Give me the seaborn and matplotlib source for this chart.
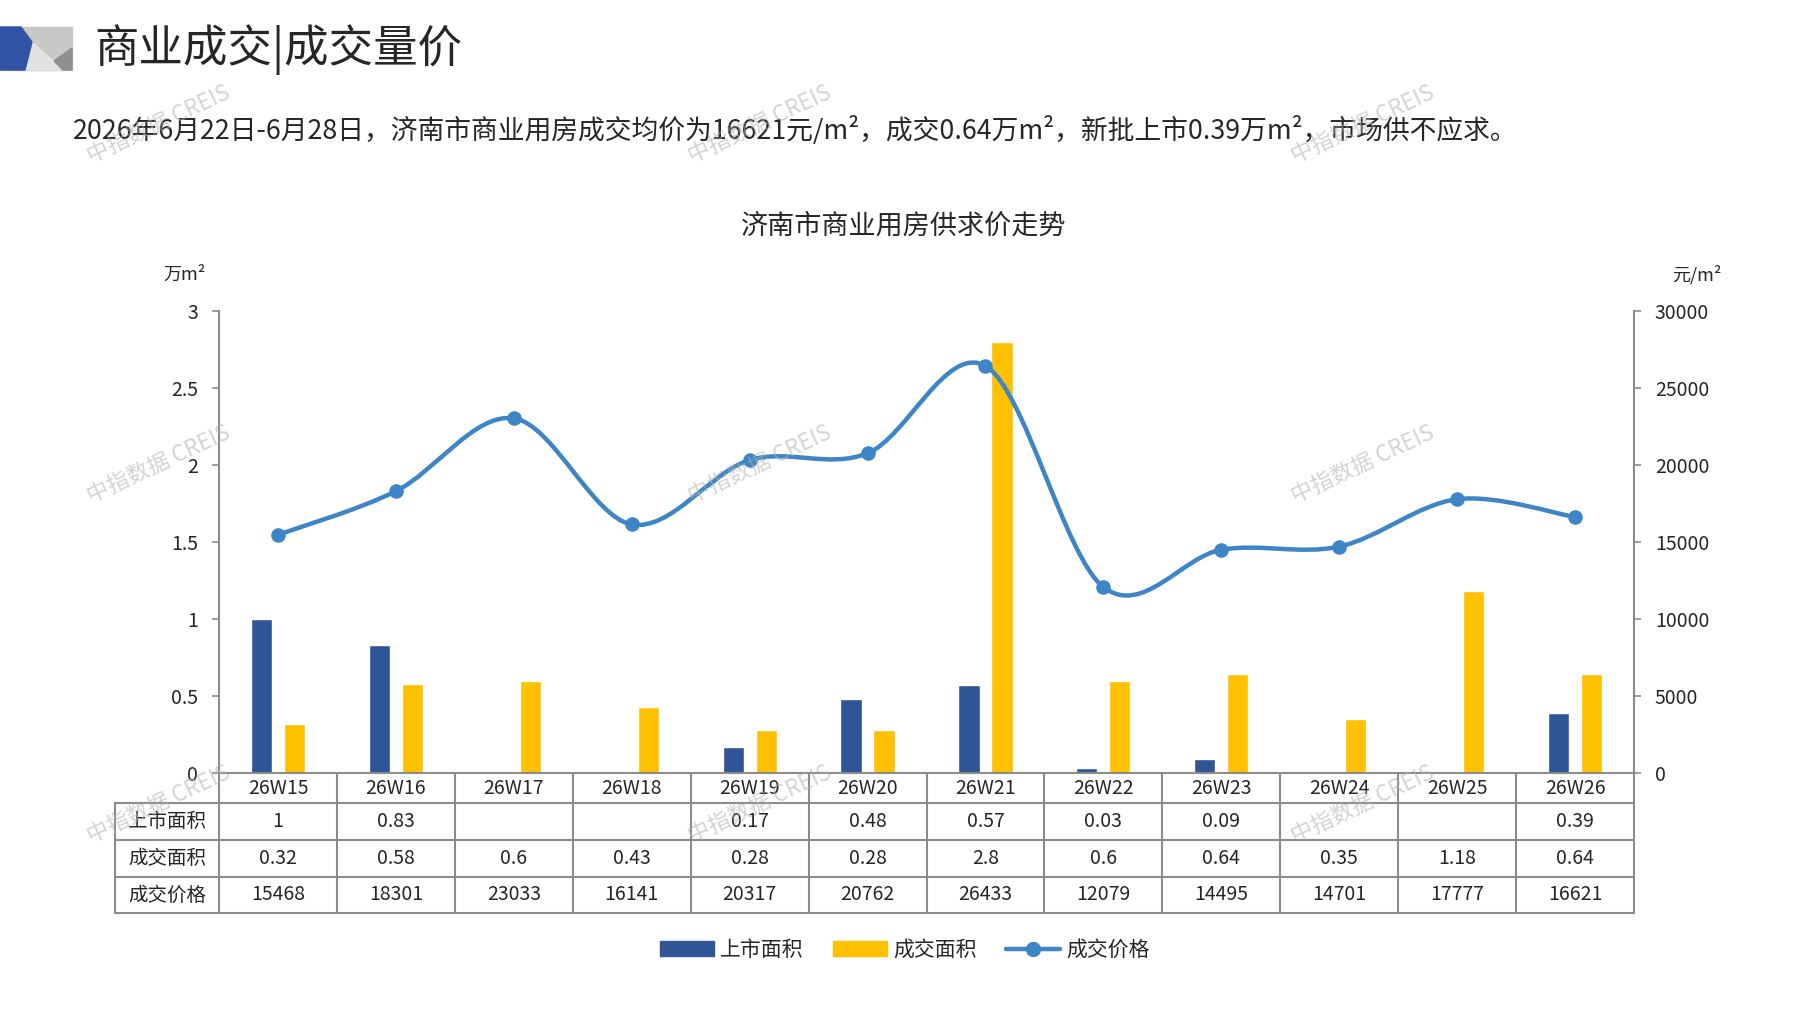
import numpy as np
import pandas as pd
import matplotlib
matplotlib.use("Agg")
import matplotlib.pyplot as plt
from matplotlib.path import Path
from matplotlib.patches import PathPatch, Patch, Polygon
from matplotlib.lines import Line2D
import seaborn as sns

# data
weeks = ["26W15", "26W16", "26W17", "26W18", "26W19", "26W20",
         "26W21", "26W22", "26W23", "26W24", "26W25", "26W26"]
supply_area = [1, 0.83, None, None, 0.17, 0.48, 0.57, 0.03, 0.09, None, None, 0.39]
deal_area = [0.32, 0.58, 0.6, 0.43, 0.28, 0.28, 2.8, 0.6, 0.64, 0.35, 1.18, 0.64]
deal_price = [15468, 18301, 23033, 16141, 20317, 20762, 26433, 12079, 14495, 14701, 17777, 16621]
row_names = ["上市面积", "成交面积", "成交价格"]

BLUE = "#2F5597"
YELLOW = "#FFC000"
LINE = "#3D85C6"
GRID = "#8C8C8C"

sns.set_style("white")
plt.rcParams["font.family"] = ["Noto Sans CJK SC", "DejaVu Sans"]
plt.rcParams["axes.unicode_minus"] = False

fig = plt.figure(figsize=(17.97, 10.10), dpi=100)
W, H = 1797, 1010
AX_L, AX_R = 219, 1634
AX_T, AX_B = 311, 773
ax = fig.add_axes([AX_L / W, 1 - AX_B / H, (AX_R - AX_L) / W, (AX_B - AX_T) / H])

#bars
df = pd.DataFrame({
    "周": weeks * 2,
    "类型": [row_names[0]] * len(weeks) + [row_names[1]] * len(weeks),
    "面积": [np.nan if v is None else v for v in supply_area] + deal_area,
})
sns.barplot(data=df, x="周", y="面积", hue="类型", order=weeks,
            hue_order=row_names[:2], palette=[BLUE, YELLOW], saturation=1,
            width=0.56, gap=0.36, errorbar=None, legend=False, ax=ax)
ax.set_xlim(-0.5, len(weeks) - 0.5)
ax.set_ylim(0, 3)
ax.set_yticks(np.arange(0, 3.01, 0.5))
ax.set_yticklabels(["{:g}".format(v) for v in np.arange(0, 3.01, 0.5)])
ax.set_xlabel("")
ax.set_ylabel("")
ax.tick_params(axis="x", length=0, labelbottom=False)
ax.tick_params(axis="y", length=5, width=1.2, color=GRID, pad=10, labelsize=14)
for s in ["top", "bottom", "right"]:
    ax.spines[s].set_visible(False)
ax.spines["left"].set_color(GRID)
ax.spines["left"].set_linewidth(1.5)

#price line on second axis, smoothed like excel
ax2 = ax.twinx()
ax2.set_ylim(0, 30000)
ax2.set_yticks(np.arange(0, 30001, 5000))
ax2.tick_params(axis="y", length=5, width=1.2, color=GRID, pad=10, labelsize=14)
for s in ["top", "bottom", "left"]:
    ax2.spines[s].set_visible(False)
ax2.spines["right"].set_color(GRID)
ax2.spines["right"].set_linewidth(1.5)

xs = np.arange(len(weeks), dtype=float)
pts = np.column_stack([xs, np.array(deal_price, dtype=float)])
verts = [tuple(pts[0])]
codes = [Path.MOVETO]
n = len(pts)
for i in range(n - 1):
    p_prev = pts[max(i - 1, 0)]
    p_next = pts[min(i + 2, n - 1)]
    c1 = pts[i] + (pts[i + 1] - p_prev) / 6
    c2 = pts[i + 1] - (p_next - pts[i]) / 6
    verts += [tuple(c1), tuple(c2), tuple(pts[i + 1])]
    codes += [Path.CURVE4] * 3
ax2.add_patch(PathPatch(Path(verts, codes), fill=False, edgecolor=LINE,
                        lw=3.2, capstyle="round", zorder=3))
sns.scatterplot(x=xs, y=deal_price, ax=ax2, color=LINE, s=110,
                edgecolor=LINE, linewidth=0, zorder=4, legend=False)
ax2.set_xlim(-0.5, len(weeks) - 0.5)
ax2.set_ylabel("")

#data table under the axes
tr = ax.get_xaxis_transform()
ax_h = AX_B - AX_T
rows_y = [0, -30 / ax_h, -67 / ax_h, -104 / ax_h, -140 / ax_h]
cat_px = (AX_R - AX_L) / len(weeks)
x_left = -0.5 - (AX_L - 115) / cat_px
x_right = len(weeks) - 0.5
line_kw = dict(color=GRID, lw=1.5, transform=tr, clip_on=False, zorder=5)
ax.plot([-0.5, x_right], [0, 0], **line_kw)
for yb in rows_y[1:]:
    ax.plot([x_left, x_right], [yb, yb], **line_kw)
for k in range(len(weeks) + 1):
    ax.plot([k - 0.5, k - 0.5], [0, rows_y[-1]], **line_kw)
ax.plot([x_left, x_left], [rows_y[1], rows_y[-1]], **line_kw)

cells = [
    weeks,
    ["" if v is None else "{:g}".format(v) for v in supply_area],
    ["{:g}".format(v) for v in deal_area],
    [str(v) for v in deal_price],
]
for r, row in enumerate(cells):
    ym = (rows_y[r] + rows_y[r + 1]) / 2
    for i, txt in enumerate(row):
        ax.text(i, ym, txt, transform=tr, ha="center", va="center",
                fontsize=14, clip_on=False)
    if r > 0:
        ax.text((x_left - 0.5) / 2, ym, row_names[r - 1], transform=tr,
                ha="center", va="center", fontsize=14, clip_on=False)

#axis units
fig.text(184 / W, 1 - 275 / H, "万m²", ha="center", va="center", fontsize=13)
fig.text(1697 / W, 1 - 275 / H, "元/m²", ha="center", va="center", fontsize=13)

#chart title and page header
fig.text(904 / W, 1 - 226 / H, "济南市商业用房供求价走势", ha="center", va="center", fontsize=19.5)
fig.text(94 / W, 1 - 50 / H, "商业成交|成交量价", ha="left", va="center", fontsize=32)
fig.text(73 / W, 1 - 130 / H,
         "2026年6月22日-6月28日，济南市商业用房成交均价为16621元/m²，成交0.64万m²，新批上市0.39万m²，市场供不应求。",
         ha="left", va="center", fontsize=19.3)

#logo block top left
def px(x, y):
    return (x / W, 1 - y / H)

fig.patches.append(Polygon([px(0, 27), px(72, 27), px(72, 70), px(0, 70)],
                           closed=True, transform=fig.transFigure, color="#C8C8C8"))
fig.patches.append(Polygon([px(32, 42), px(63, 70), px(25, 70)],
                           closed=True, transform=fig.transFigure, color="#E2E2E2"))
fig.patches.append(Polygon([px(72, 48), px(54, 61), px(63, 70), px(72, 70)],
                           closed=True, transform=fig.transFigure, color="#8F8F8F"))
fig.patches.append(Polygon([px(0, 27), px(21, 27), px(32, 42), px(25, 70), px(0, 70)],
                           closed=True, transform=fig.transFigure, color="#3253A5"))

#legend
handles = [Patch(facecolor=BLUE, edgecolor=BLUE, label=row_names[0]),
           Patch(facecolor=YELLOW, edgecolor=YELLOW, label=row_names[1]),
           Line2D([0], [0], color=LINE, lw=3.2, marker="o", markersize=10,
                  label=row_names[2])]
fig.legend(handles=handles, loc="center", bbox_to_anchor=(905 / W, 1 - 950 / H),
           ncol=3, frameon=False, fontsize=15, handlelength=2.6,
           handletextpad=0.3, columnspacing=1.4)

#watermarks
for wx in [159, 760, 1363]:
    for wy in [124, 464, 804]:
        fig.text(wx / W, 1 - wy / H, "中指数据 CREIS", rotation=25,
                 ha="center", va="center", fontsize=16, color="#B0B0B0",
                 alpha=0.55, zorder=10)

plt.savefig("out.png", dpi=100)
